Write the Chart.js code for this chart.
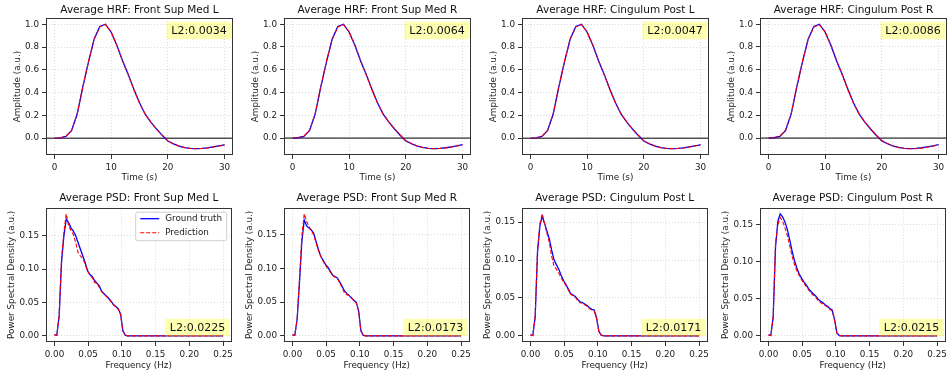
<!DOCTYPE html>
<html>
<head>
<meta charset="utf-8">
<script src="https://cdn.jsdelivr.net/npm/chart.js@4.4.0/dist/chart.umd.min.js"></script>
<style>
  body { margin: 0; background: #fff; width: 948px; height: 373px; position: relative; overflow: hidden; }
  canvas { position: absolute; }
</style>
</head>
<body>
<script>
// ---- data ----
const hrfTime = [0,1,2,3,4,5,6,7,8,9,10,11,12,13,14,15,16,17,18,19,20,21,22,23,24,25,26,27,28,29,30];

const hrfTruthFSML = [0,0.003,0.015,0.065,0.21,0.45,0.67,0.87,0.98,1.0,0.93,0.815,0.68,0.56,0.43,0.31,0.21,0.14,0.08,0.025,-0.025,-0.05,-0.07,-0.082,-0.09,-0.092,-0.09,-0.085,-0.077,-0.068,-0.058];
const hrfPredFSML  = [0,0.003,0.016,0.066,0.212,0.452,0.672,0.868,0.978,0.998,0.932,0.817,0.682,0.558,0.428,0.309,0.211,0.141,0.081,0.026,-0.024,-0.049,-0.07,-0.083,-0.091,-0.093,-0.091,-0.086,-0.078,-0.069,-0.059];
const hrfTruthFSMR = [0,0.003,0.015,0.065,0.21,0.45,0.67,0.87,0.98,1.0,0.93,0.815,0.68,0.56,0.43,0.31,0.21,0.14,0.08,0.025,-0.025,-0.05,-0.07,-0.082,-0.09,-0.092,-0.09,-0.085,-0.077,-0.068,-0.058];
const hrfPredFSMR  = [0,0.004,0.017,0.068,0.214,0.455,0.675,0.866,0.976,0.996,0.934,0.82,0.684,0.557,0.426,0.307,0.212,0.143,0.082,0.027,-0.023,-0.048,-0.069,-0.083,-0.091,-0.094,-0.092,-0.087,-0.079,-0.07,-0.06];
const hrfTruthCPL  = [0,0.003,0.015,0.065,0.21,0.45,0.67,0.87,0.98,1.0,0.93,0.815,0.68,0.56,0.43,0.31,0.21,0.14,0.08,0.025,-0.025,-0.05,-0.07,-0.082,-0.09,-0.092,-0.09,-0.085,-0.077,-0.068,-0.058];
const hrfPredCPL   = [0,0.003,0.016,0.067,0.213,0.453,0.673,0.868,0.977,0.997,0.932,0.818,0.682,0.558,0.428,0.308,0.211,0.142,0.081,0.026,-0.024,-0.049,-0.07,-0.083,-0.091,-0.093,-0.091,-0.086,-0.078,-0.069,-0.059];
const hrfTruthCPR  = [0,0.003,0.015,0.065,0.21,0.45,0.67,0.87,0.98,1.0,0.93,0.815,0.68,0.56,0.43,0.31,0.21,0.14,0.08,0.025,-0.025,-0.05,-0.07,-0.082,-0.09,-0.092,-0.09,-0.085,-0.077,-0.068,-0.058];
const hrfPredCPR   = [0,0.004,0.018,0.069,0.215,0.456,0.676,0.866,0.975,0.995,0.935,0.821,0.685,0.556,0.425,0.306,0.212,0.143,0.083,0.028,-0.022,-0.048,-0.069,-0.084,-0.092,-0.094,-0.093,-0.088,-0.08,-0.071,-0.061];

const psdFreq = [0,0.0035,0.007,0.0105,0.014,0.0175,0.021,0.0245,0.028,0.0315,0.035,0.0385,0.042,0.0455,0.049,0.0525,0.056,0.0595,0.063,0.0665,0.07,0.0735,0.077,0.0805,0.084,0.0875,0.091,0.0945,0.098,0.1015,0.105,0.1085,0.25];

const psdTruthFSML = [0.0015,0.001,0.03,0.11,0.15,0.175,0.17,0.162,0.157,0.15,0.14,0.13,0.12,0.11,0.098,0.092,0.089,0.083,0.079,0.075,0.067,0.063,0.06,0.056,0.052,0.047,0.044,0.041,0.033,0.008,0.001,0,0];
const psdPredFSML  = [0.0015,0.001,0.03,0.115,0.155,0.183,0.165,0.158,0.152,0.14,0.125,0.12,0.116,0.108,0.097,0.092,0.087,0.08,0.079,0.073,0.066,0.063,0.059,0.056,0.051,0.047,0.043,0.04,0.032,0.007,0.001,0,0];
const psdTruthFSMR = [0.0015,0.001,0.025,0.08,0.14,0.172,0.163,0.16,0.157,0.152,0.14,0.128,0.118,0.112,0.106,0.102,0.096,0.09,0.088,0.086,0.08,0.074,0.067,0.063,0.06,0.056,0.053,0.05,0.038,0.008,0.001,0,0];
const psdPredFSMR  = [0.0015,0.001,0.025,0.085,0.148,0.181,0.17,0.162,0.156,0.15,0.138,0.127,0.118,0.111,0.105,0.1,0.095,0.09,0.087,0.085,0.079,0.072,0.064,0.061,0.06,0.057,0.052,0.049,0.037,0.007,0.001,0,0];
const psdTruthCPL  = [0.0013,0.0005,0.025,0.11,0.145,0.158,0.148,0.138,0.128,0.113,0.1,0.094,0.088,0.08,0.073,0.068,0.062,0.056,0.054,0.052,0.048,0.045,0.044,0.042,0.04,0.037,0.035,0.034,0.024,0.006,0.001,0,0];
const psdPredCPL   = [0.0013,0.0005,0.025,0.113,0.148,0.161,0.148,0.135,0.123,0.105,0.092,0.088,0.083,0.077,0.071,0.067,0.061,0.055,0.053,0.051,0.047,0.044,0.043,0.041,0.039,0.036,0.034,0.033,0.023,0.005,0.001,0,0];
const psdTruthCPR  = [0.0013,0.0005,0.025,0.12,0.155,0.165,0.161,0.154,0.144,0.13,0.115,0.102,0.092,0.084,0.078,0.073,0.069,0.064,0.06,0.057,0.054,0.05,0.047,0.045,0.042,0.04,0.037,0.035,0.022,0.004,0.0005,0,0];
const psdPredCPR   = [0.0013,0.0005,0.025,0.125,0.15,0.16,0.155,0.146,0.136,0.122,0.108,0.097,0.088,0.082,0.076,0.071,0.067,0.062,0.058,0.055,0.052,0.048,0.045,0.043,0.041,0.039,0.036,0.034,0.021,0.004,0.0005,0,0];

const regions = ['Front Sup Med L','Front Sup Med R','Cingulum Post L','Cingulum Post R'];
const hrfL2 = ['L2:0.0034','L2:0.0064','L2:0.0047','L2:0.0086'];
const psdL2 = ['L2:0.0225','L2:0.0173','L2:0.0171','L2:0.0215'];
const hrfTruth = [hrfTruthFSML, hrfTruthFSMR, hrfTruthCPL, hrfTruthCPR];
const hrfPred  = [hrfPredFSML, hrfPredFSMR, hrfPredCPL, hrfPredCPR];
const psdTruth = [psdTruthFSML, psdTruthFSMR, psdTruthCPL, psdTruthCPR];
const psdPred  = [psdPredFSML, psdPredFSMR, psdPredCPL, psdPredCPR];
const seriesNames = ['Ground truth','Prediction'];

// ---- drawing ----
const FONT = 'DejaVu Sans';

// title over the axes, frame, L2 box and legend (inside the axes like matplotlib)
const axesDecor = {
  id: 'axesDecor',
  afterDatasetsDraw(chart, args, o) {
    const ctx = chart.ctx, a = chart.chartArea;
    ctx.save();
    ctx.strokeStyle = '#333';
    ctx.lineWidth = 1;
    const l = Math.round(a.left) + 0.5, t = Math.round(a.top) + 0.5;
    const r = Math.round(a.right) - 0.5, b = Math.round(a.bottom) - 0.5;
    ctx.strokeRect(l, t, r - l, b - t);
    ctx.restore();
  },
  afterDraw(chart, args, o) {
    const ctx = chart.ctx, a = chart.chartArea;
    ctx.save();
    // title
    ctx.fillStyle = '#111';
    ctx.font = '10.5px "' + FONT + '"';
    ctx.textAlign = 'center';
    ctx.textBaseline = 'middle';
    ctx.fillText(o.title, (a.left + a.right) / 2, o.titleY);

    // L2 box
    const bw = 65, bh = 17.5;
    const bx = a.right - 1.5 - bw;
    const by = o.l2Pos === 'top' ? a.top + 3.7 : a.bottom - 5.7 - bh;
    ctx.fillStyle = 'rgba(255,255,0,0.3)';
    ctx.fillRect(bx, by, bw, bh);
    ctx.fillStyle = '#111';
    ctx.font = '11px "' + FONT + '"';
    ctx.fillText(o.l2, bx + bw / 2, by + bh / 2 + 0.5);

    if (o.legend) {
      const lw = 91, lh = 28.5;
      const lx = a.right - 5.3 - lw, ly = a.top + 4;
      ctx.fillStyle = 'rgba(255,255,255,0.8)';
      ctx.strokeStyle = '#d0d0d0';
      ctx.lineWidth = 1;
      ctx.beginPath();
      ctx.roundRect(lx + 0.5, ly + 0.5, lw, lh, 2);
      ctx.fill();
      ctx.stroke();
      ctx.font = '8.8px "' + FONT + '"';
      ctx.textAlign = 'left';
      chart.data.datasets.slice(0, 2).forEach((ds, i) => {
        const yy = ly + 7 + i * 14;
        ctx.strokeStyle = ds.borderColor;
        ctx.lineWidth = ds.borderWidth;
        ctx.setLineDash(ds.borderDash || []);
        ctx.beginPath();
        ctx.moveTo(lx + 5, yy);
        ctx.lineTo(lx + 24, yy);
        ctx.stroke();
        ctx.setLineDash([]);
        ctx.fillStyle = '#222';
        ctx.fillText(ds.label, lx + 30, yy + 0.5);
      });
    }
    ctx.restore();
  }
};

const makePanel = (col, row) => {
  const isHrf = row === 0;
  const canvas = document.createElement('canvas');
  canvas.width = 236;
  canvas.height = isHrf ? 186 : 187;
  canvas.style.left = (col * 238) + 'px';
  canvas.style.top = (isHrf ? 0 : 186) + 'px';
  document.body.appendChild(canvas);

  const xs = isHrf ? hrfTime : psdFreq;
  const truth = isHrf ? hrfTruth[col] : psdTruth[col];
  const pred = isHrf ? hrfPred[col] : psdPred[col];
  const toPts = arr => arr.map((v, i) => ({ x: xs[i], y: v }));

  const all = truth.concat(pred);
  const lo = Math.min(...all), hi = Math.max(...all);
  const pad = (hi - lo) * 0.05;
  const xMin = isHrf ? -1.5 : -0.0125, xMax = isHrf ? 31.5 : 0.2625;

  const datasets = [
    { label: seriesNames[0], data: toPts(truth), borderColor: '#0000ff', borderWidth: 1.3, order: 2 },
    { label: seriesNames[1], data: toPts(pred), borderColor: '#ff0000', borderWidth: 1.1, borderDash: [4, 2], order: 1 }
  ];
  if (isHrf) {
    datasets.push({ label: 'zero', data: [{ x: xMin, y: 0 }, { x: xMax, y: 0 }], borderColor: '#000', borderWidth: 1, order: 3 });
  }

  const tickFont = { family: FONT, size: 8.8 };
  const gridOpts = { color: 'rgba(0,0,0,0.15)', tickColor: '#333', tickLength: 4, tickWidth: 1, drawTicks: true };

  new Chart(canvas, {
    type: 'line',
    data: { datasets },
    plugins: [axesDecor],
    options: {
      responsive: false,
      animation: false,
      devicePixelRatio: 1,
      layout: { padding: { left: 0, right: 3, top: isHrf ? 18 : 21.7, bottom: 0 } },
      elements: { point: { radius: 0 }, line: { tension: 0 } },
      plugins: {
        legend: { display: false },
        tooltip: { enabled: false },
        title: { display: false },
        axesDecor: {
          title: (isHrf ? 'Average HRF: ' : 'Average PSD: ') + regions[col],
          titleY: isHrf ? 10 : 12.3,
          l2: isHrf ? hrfL2[col] : psdL2[col],
          l2Pos: isHrf ? 'top' : 'bottom',
          legend: !isHrf && col === 0
        }
      },
      scales: {
        x: {
          type: 'linear',
          min: xMin,
          max: xMax,
          afterFit: s => { s.height = 31; },
          ticks: {
            stepSize: isHrf ? 10 : 0.05,
            includeBounds: false,
            autoSkip: false,
            maxRotation: 0,
            padding: 3,
            color: '#222',
            font: tickFont,
            callback: v => isHrf ? String(Math.round(v)) : v.toFixed(2)
          },
          grid: gridOpts,
          border: { display: false, dash: [1, 2] },
          title: {
            display: true,
            text: isHrf ? 'Time (s)' : 'Frequency (Hz)',
            color: '#222',
            font: tickFont,
            padding: { top: 0, bottom: isHrf ? 2.7 : 1.7 }
          }
        },
        y: {
          type: 'linear',
          min: lo - pad,
          max: hi + pad,
          afterFit: s => { s.width = 46; },
          ticks: {
            stepSize: isHrf ? 0.2 : 0.05,
            includeBounds: false,
            padding: 3,
            color: '#222',
            font: tickFont,
            callback: v => isHrf ? v.toFixed(1) : v.toFixed(2)
          },
          grid: gridOpts,
          border: { display: false, dash: [1, 2] },
          title: {
            display: true,
            text: isHrf ? 'Amplitude (a.u.)' : 'Power Spectral Density (a.u.)',
            color: '#222',
            font: tickFont,
            padding: { top: isHrf ? 12.7 : 6.2, bottom: 0 }
          }
        }
      }
    }
  });
};

for (let row = 0; row < 2; row++) {
  for (let col = 0; col < 4; col++) {
    makePanel(col, row);
  }
}
</script>
</body>
</html>
